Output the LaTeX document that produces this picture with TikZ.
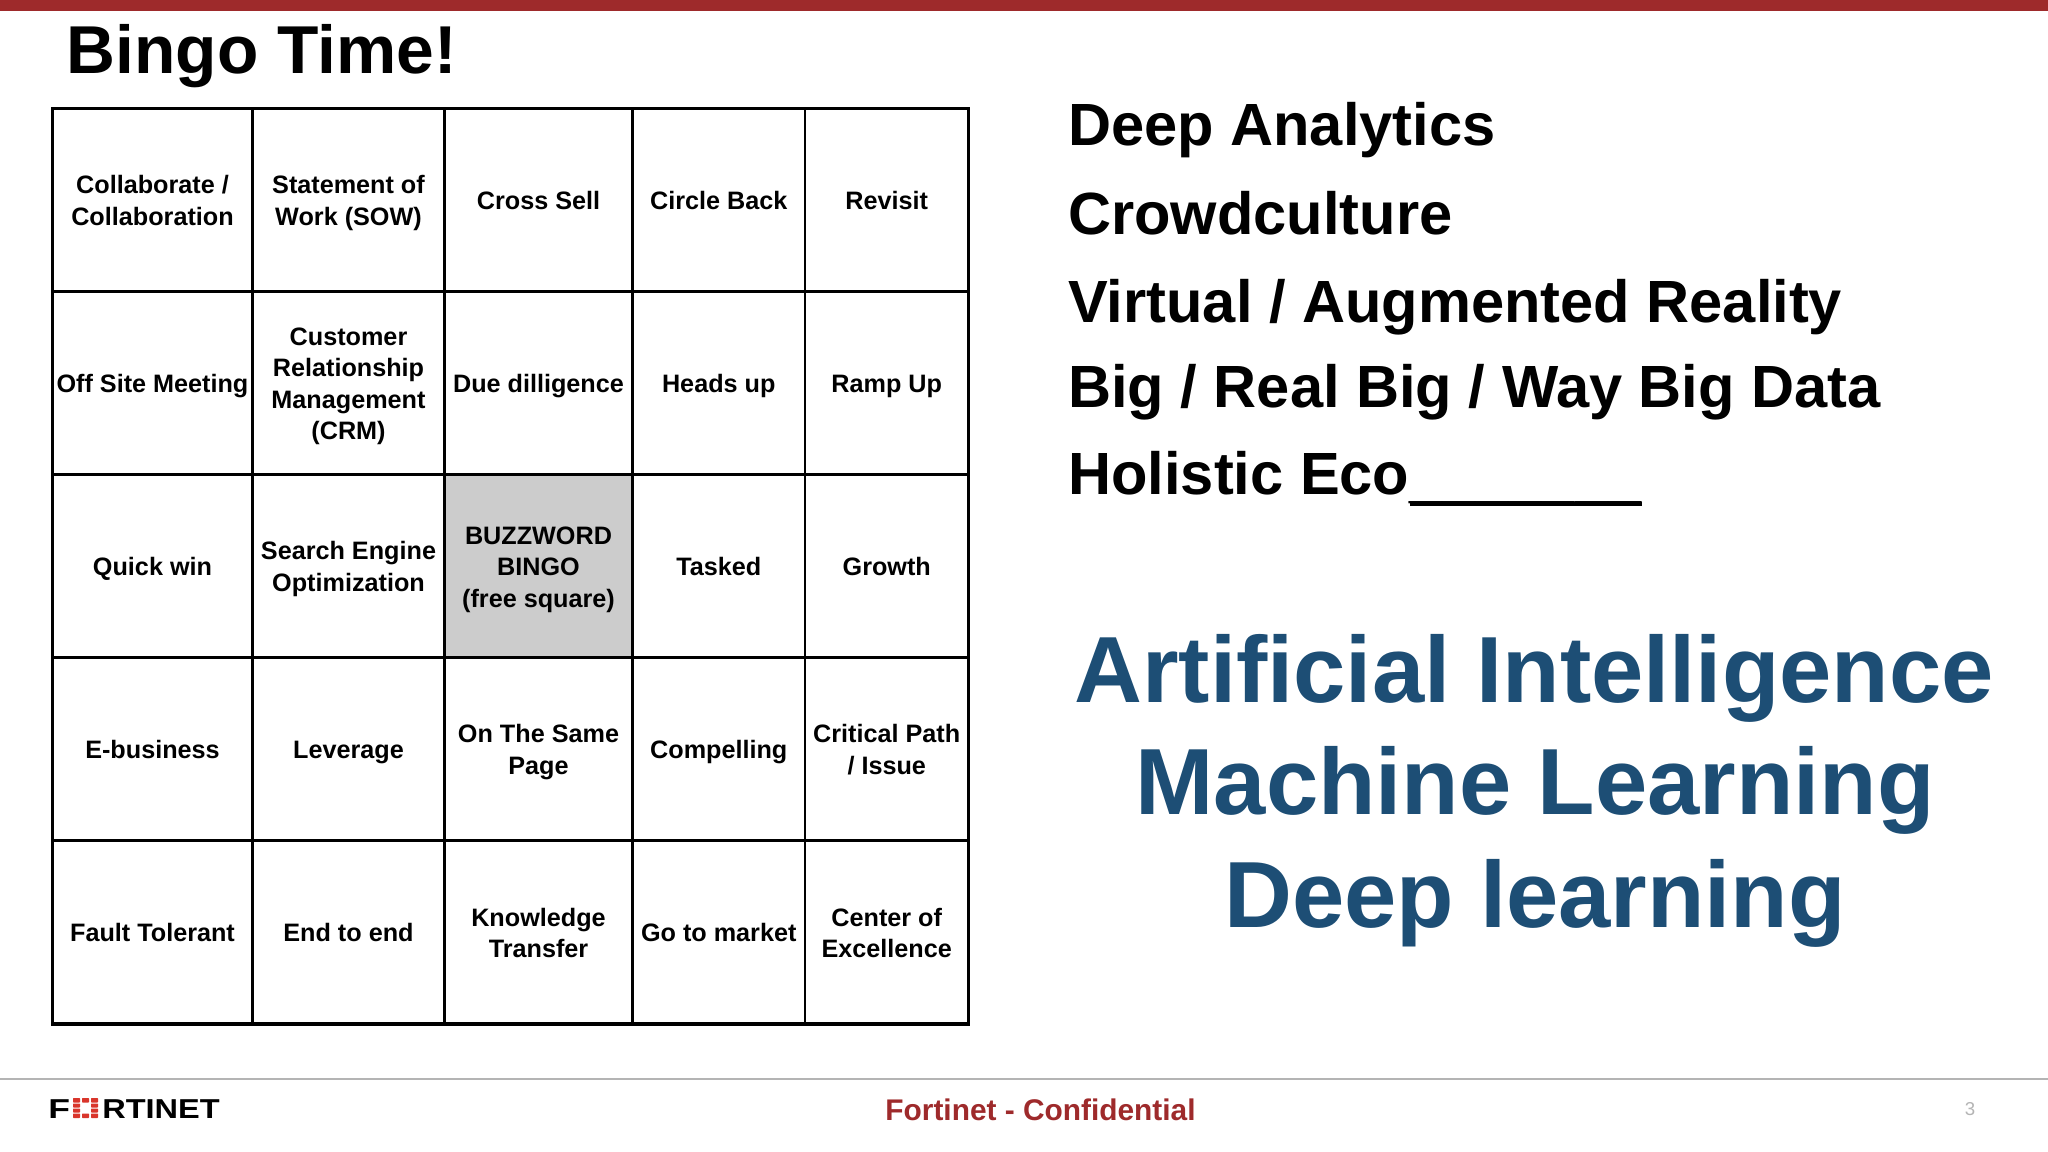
\documentclass[tikz,border=0pt]{standalone}
\usepackage{fontspec}
\setmainfont{Liberation Sans}
\definecolor{barred}{HTML}{9E2A2B}
\definecolor{aiblue}{HTML}{1D4E75}
\definecolor{footgray}{HTML}{B4B4B4}
\definecolor{freecell}{HTML}{CCCCCC}
\definecolor{logored}{HTML}{D9352B}
\newcommand{\fsz}[1]{\fontsize{#1}{#1}\selectfont\bfseries}
\tikzset{
  cell/.style={draw=black,line width=1.6pt,inner sep=0pt,align=center,text=black,
    font=\fontsize{18.9}{23.55}\selectfont\bfseries},
  listitem/.style={anchor=base west,inner sep=0pt,text=black,font=\fsz{44.7}},
  aiitem/.style={anchor=base,inner sep=0pt,text=aiblue,font=\fsz{70.5}},
  logochar/.style={anchor=base west,inner sep=0pt,text=black},
  logoblock/.style={fill=logored,rounded corners=0.5pt}
}
\newcommand{\cellat}[7]{%
  \node[cell,#7,minimum width={(#3-#1)*0.75pt},minimum height={(#4-#2)*0.75pt}] (#5)
    at ({(#1+#3)/2},{(#2+#4)/2}) {\rule{0pt}{21.5pt}#6\strut};}
\begin{document}
\begin{tikzpicture}[x=0.75pt,y=-0.75pt]
\useasboundingbox (0,0) rectangle (2048,1152);
\fill[white] (0,0) rectangle (2048,1152);
\fill[barred] (0,0) rectangle (2048,11);
\node[anchor=base west,inner sep=0pt,font=\fsz{50.8}] (title) at (66.5,74) {Bingo Time!};
% grid
\def\xa{52.5}\def\xb{252.5}\def\xc{444.5}\def\xd{632.5}\def\xe{805}\def\xf{968.5}
\def\ya{108.5}\def\yb{291.5}\def\yc{474.5}\def\yd{657.5}\def\ye{840.5}\def\yf{1024}
\cellat{\xa}{\ya}{\xb}{\yb}{c11}{Collaborate /\\Collaboration}{}
\cellat{\xb}{\ya}{\xc}{\yb}{c12}{Statement of\\Work (SOW)}{}
\cellat{\xc}{\ya}{\xd}{\yb}{c13}{Cross Sell}{}
\cellat{\xd}{\ya}{\xe}{\yb}{c14}{Circle Back}{}
\cellat{\xe}{\ya}{\xf}{\yb}{c15}{Revisit}{}
\cellat{\xa}{\yb}{\xb}{\yc}{c21}{Off Site Meeting}{}
\cellat{\xb}{\yb}{\xc}{\yc}{c22}{Customer\\Relationship\\Management\\(CRM)}{}
\cellat{\xc}{\yb}{\xd}{\yc}{c23}{Due dilligence}{}
\cellat{\xd}{\yb}{\xe}{\yc}{c24}{Heads up}{}
\cellat{\xe}{\yb}{\xf}{\yc}{c25}{Ramp Up}{}
\cellat{\xa}{\yc}{\xb}{\yd}{c31}{Quick win}{}
\cellat{\xb}{\yc}{\xc}{\yd}{c32}{Search Engine\\Optimization}{}
\cellat{\xc}{\yc}{\xd}{\yd}{c33}{BUZZWORD\\BINGO\\(free square)}{fill=freecell}
\cellat{\xd}{\yc}{\xe}{\yd}{c34}{Tasked}{}
\cellat{\xe}{\yc}{\xf}{\yd}{c35}{Growth}{}
\cellat{\xa}{\yd}{\xb}{\ye}{c41}{E-business}{}
\cellat{\xb}{\yd}{\xc}{\ye}{c42}{Leverage}{}
\cellat{\xc}{\yd}{\xd}{\ye}{c43}{On The Same\\Page}{}
\cellat{\xd}{\yd}{\xe}{\ye}{c44}{Compelling}{}
\cellat{\xe}{\yd}{\xf}{\ye}{c45}{Critical Path\\/ Issue}{}
\cellat{\xa}{\ye}{\xb}{\yf}{c51}{Fault Tolerant}{}
\cellat{\xb}{\ye}{\xc}{\yf}{c52}{End to end}{}
\cellat{\xc}{\ye}{\xd}{\yf}{c53}{Knowledge\\Transfer}{}
\cellat{\xd}{\ye}{\xe}{\yf}{c54}{Go to market}{}
\cellat{\xe}{\ye}{\xf}{\yf}{c55}{Center of\\Excellence}{}
\draw[line width=2.7pt] (\xa,\ya) rectangle (\xf,\yf);
% right list
\node[listitem] (l1) at (1068,146) {Deep Analytics};
\node[listitem] (l2) at (1068,234) {Crowdculture};
\node[listitem] (l3) at (1068,322) {Virtual / Augmented Reality};
\node[listitem] (l4) at (1068,407) {Big / Real Big / Way Big Data};
\node[listitem] (l5) at (1068,494) {Holistic Eco\raisebox{-1.5pt}{\_\_\_\_\_\_\_}};
\draw[black,line width=3pt] (1410,503.5) -- (1642,503.5);
\node[aiitem] (a1) at (1534,702.5) {Artificial Intelligence};
\node[aiitem] (a2) at (1535,814.5) {Machine Learning};
\node[aiitem] (a3) at (1535,927.5) {Deep learning};
% footer
\draw[footgray,line width=1.5pt] (0,1079) -- (2048,1079);
\node[anchor=base,inner sep=0pt,text=barred,font=\fsz{22.4}] (conf) at (1040.5,1120) {Fortinet - Confidential};
\node[anchor=base,inner sep=0pt,text=footgray,font=\fontsize{14}{14}\selectfont] (pg) at (1970,1115) {3};
% logo
\node[logochar,font=\fontsize{20.5}{20.5}\selectfont\bfseries,xscale=1.3] (lf) at (48,1118) {F};
\foreach \px in {73,82,91}{\foreach \py in {1098,1113.5}{\fill[logoblock] (\px,\py) rectangle +(7,4.5);}}
\foreach \px in {73,91}{\foreach \py in {1103.5,1108.5}{\fill[logoblock] (\px,\py) rectangle +(7,4);}}
\node[logochar,font=\fontsize{20.5}{20.5}\selectfont\bfseries,xscale=1.19] (lr) at (102,1118) {RTINET};
\end{tikzpicture}
\end{document}
